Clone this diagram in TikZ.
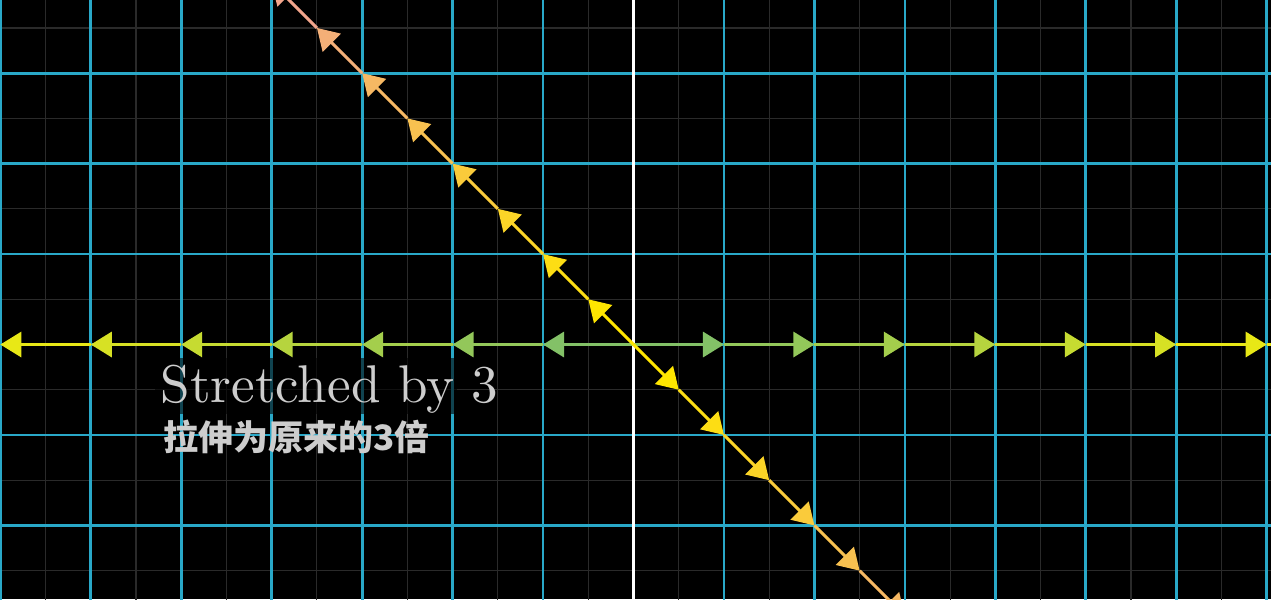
\documentclass[tikz,border=0pt]{standalone}
\usepackage{fontspec}
\newfontfamily\cjk{Noto Sans CJK SC}
\newfontfamily\lmten{lmroman10-regular.otf}
\usetikzlibrary{arrows.meta}

\definecolor{gridblue}{RGB}{41,168,200}
\definecolor{finegray}{RGB}{42,42,42}
\definecolor{hnear}{RGB}{131,193,103}
\definecolor{hfar}{RGB}{232,232,22}
\definecolor{dnear}{RGB}{255,230,0}
\definecolor{dfar}{RGB}{242,165,140}
\definecolor{textgray}{RGB}{205,205,205}

\begin{document}
\begin{tikzpicture}[
  fineline/.style={finegray, line width=0.35pt},
  mainline/.style={gridblue, line width=0.85pt},
  vec/.style={line width=0.9pt, -{Triangle[length=6.6pt, width=7.9pt]}},
  caption/.style={anchor=base west, inner sep=0pt, textgray},
]
  % --- frame and background ---
  \useasboundingbox (-7.004,-2.814) rectangle (7.048,3.809);
  \fill[black] (-7.004,-2.814) rectangle (7.048,3.809);
  \clip (-7.004,-2.814) rectangle (7.048,3.809);

  % --- plane grid ---
  \draw[fineline] (-7.5,-3.5) grid[step=0.5] (7.5,4.5);
  \draw[mainline] (-7.5,-3.5) grid[step=1] (7.5,4.5);
  \draw[white, line width=0.7pt] (0,-3) -- (0,4);

  % --- vectors on the x axis ---
  \coordinate (r0) at (0,0);
  \coordinate (l0) at (0,0);
  \foreach \k in {1,...,7}{
    \pgfmathtruncatemacro\j{\k-1}
    \pgfmathtruncatemacro\p{100*(\k-1)/6}
    \coordinate (r\k) at (\k,0);
    \coordinate (l\k) at (-\k,0);
    \draw[vec, hfar!\p!hnear] (r\j) -- (r\k);
    \draw[vec, hfar!\p!hnear] (l\j) -- (l\k);
  }
  \draw[hfar, line width=0.9pt] (r7) -- ++(0.3,0);
  \draw[hfar, line width=0.9pt] (l7) -- ++(-0.3,0);

  % --- vectors on the diagonal ---
  \coordinate (u0) at (0,0);
  \coordinate (d0) at (0,0);
  \foreach \k in {1,...,8}{
    \pgfmathtruncatemacro\j{\k-1}
    \pgfmathtruncatemacro\p{100*(\k-1)/7}
    \coordinate (u\k) at ({-0.5*\k},{0.5*\k});
    \coordinate (d\k) at ({0.5*\k},{-0.5*\k});
    \draw[vec, dfar!\p!dnear] (u\j) -- (u\k);
    \draw[vec, dfar!\p!dnear] (d\j) -- (d\k);
  }

  % --- captions ---
  \fill[black, opacity=0.6] (-5.29,-0.15) rectangle (-1.95,-0.77);
  \node[caption, font=\lmten\fontsize{16.7}{20}\selectfont] (title) at (-5.235,-0.636)
    {Stretched by 3};
  \node[caption, font=\cjk\bfseries\fontsize{11}{13}\selectfont] (subtitle) at (-5.202,-1.177)
    {拉伸为原来的3倍};
\end{tikzpicture}
\end{document}
